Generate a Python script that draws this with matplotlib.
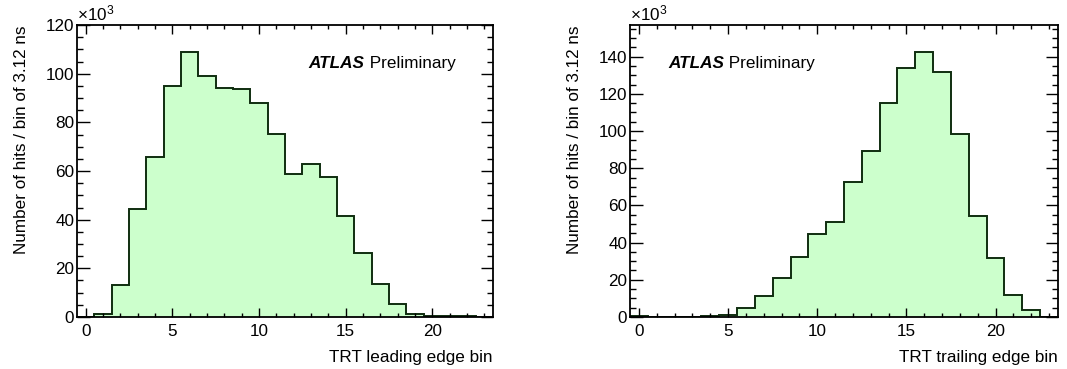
import matplotlib
matplotlib.use('Agg')
import matplotlib.pyplot as plt
from matplotlib.ticker import MultipleLocator
import numpy as np

plt.rcParams['font.family'] = ['Liberation Sans', 'DejaVu Sans']
plt.rcParams['mathtext.fontset'] = 'custom'
plt.rcParams['mathtext.rm'] = 'Liberation Sans'
plt.rcParams['mathtext.it'] = 'Liberation Sans:italic'

# bin edges: integer-centred bins from -0.5 to 23.5
edges = np.arange(-0.5, 24.0, 1.0)

# hits per bin, in units of 10^3
leading_counts = [0.0, 1.4, 13.0, 44.4, 65.8, 95.0, 109.0, 99.0, 94.0, 93.7,
                  87.8, 75.2, 58.6, 62.7, 57.6, 41.6, 26.5, 13.7, 5.2, 1.4,
                  0.5, 0.3, 0.2, 0.1]
trailing_counts = [0.3, 0.2, 0.0, 0.0, 0.5, 1.2, 4.7, 11.5, 21.2, 32.1,
                   44.5, 51.2, 72.5, 89.4, 115.2, 133.9, 142.7, 131.6, 98.5, 54.2,
                   31.6, 12.0, 3.9, 0.0]

panels = [
    (leading_counts, 'TRT leading edge bin', 120, 20, 5, [0.0722, 0.141, 0.3898, 0.791], 0.557),
    (trailing_counts, 'TRT trailing edge bin', 157, 20, 5, [0.5905, 0.141, 0.4010, 0.791], 0.09),
]

fig = plt.figure(figsize=(10.67, 3.69), dpi=100)
fs = 12.3

for counts, xlab, ytop, ymaj, ymin, rect, atlas_x in panels:
    ax = fig.add_axes(rect)
    ax.stairs(counts, edges, fill=True, color='#ccffcc', lw=0)
    ax.stairs(counts, edges, color='#0f2d0f', lw=1.4)
    ax.set_xlim(-0.5, 23.5)
    ax.set_ylim(0, ytop)
    ax.xaxis.set_major_locator(MultipleLocator(5))
    ax.xaxis.set_minor_locator(MultipleLocator(1))
    ax.yaxis.set_major_locator(MultipleLocator(ymaj))
    ax.yaxis.set_minor_locator(MultipleLocator(ymin))
    ax.tick_params(which='both', direction='in', top=True, right=True, labelsize=fs, width=1.0)
    ax.tick_params(axis='x', which='major', length=6.3, pad=5)
    ax.tick_params(axis='x', which='minor', length=3.2)
    ax.tick_params(axis='y', which='major', length=9, pad=2)
    ax.tick_params(axis='y', which='minor', length=4.5)
    for s in ax.spines.values():
        s.set_linewidth(1.3)
    ax.set_xlabel(xlab, fontsize=fs, loc='right', labelpad=8)
    ax.set_ylabel('Number of hits / bin of 3.12 ns', fontsize=fs, loc='top', labelpad=12)
    ax.text(0.0, 1.005, r'$\times10^{3}$', transform=ax.transAxes, fontsize=fs,
            ha='left', va='bottom')
    t = ax.text(atlas_x, 0.87, 'ATLAS', transform=ax.transAxes, fontsize=fs,
                fontweight='bold', style='italic', ha='left', va='center')
    ax.annotate(' Preliminary', xycoords=t, xy=(1, 0), va='bottom', ha='left', fontsize=fs)

fig.savefig('out.png', dpi=100)
